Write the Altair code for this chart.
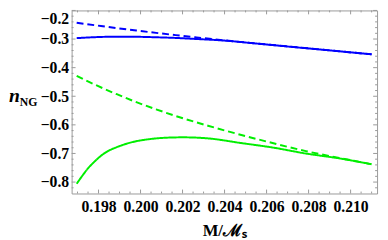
import altair as alt
import pandas as pd

# ---- data ----
blue_dash_M = [0.19696, 0.19794, 0.19887, 0.19980, 0.20074, 0.20167, 0.20260, 0.20400, 0.20540, 0.20727, 0.20913, 0.21100]
blue_dash_v = [-0.2433, -0.2528, -0.2617, -0.2702, -0.2784, -0.2863, -0.2938, -0.3047, -0.3146, -0.3275, -0.3405, -0.3534]

blue_solid_M = [0.19696, 0.19794, 0.19887, 0.19980, 0.20074, 0.20167, 0.20260, 0.20400, 0.20540, 0.20727, 0.20913, 0.21100]
blue_solid_v = [-0.2968, -0.2931, -0.2917, -0.2921, -0.2938, -0.2961, -0.2996, -0.3054, -0.3149, -0.3279, -0.3405, -0.3534]

green_dash_M = [0.19696, 0.19794, 0.19887, 0.19980, 0.20074, 0.20167, 0.20321, 0.20480, 0.20633, 0.20787, 0.20946, 0.21100]
green_dash_v = [-0.4284, -0.4632, -0.4929, -0.5205, -0.5457, -0.5689, -0.6030, -0.6354, -0.6644, -0.6917, -0.7155, -0.7377]

green_solid_M = [0.19696, 0.19724, 0.19747, 0.19780, 0.19808, 0.19841, 0.19887, 0.19967, 0.20041, 0.20120, 0.20204,
                 0.20321, 0.20480, 0.20633, 0.20787, 0.20946, 0.21100]
green_solid_v = [-0.8059, -0.7769, -0.7547, -0.7291, -0.7104, -0.6934, -0.6780, -0.6593, -0.6501, -0.6450, -0.6436,
                 -0.6473, -0.6637, -0.6797, -0.7002, -0.7172, -0.7377]

x_labels = [0.198, 0.200, 0.202, 0.204, 0.206, 0.208, 0.210]
y_labels = [-0.8, -0.7, -0.6, -0.5, -0.4, -0.3, -0.2]
x_major_ticks = [0.198, 0.200, 0.202, 0.204, 0.206, 0.208, 0.210]
x_minor_ticks = [0.197, 0.1975, 0.1985, 0.199, 0.1995, 0.2005, 0.201, 0.2015, 0.2025, 0.203, 0.2035,
                 0.2045, 0.205, 0.2055, 0.2065, 0.207, 0.2075, 0.2085, 0.209, 0.2095, 0.2105, 0.211]
y_major_ticks = [-0.8, -0.7, -0.6, -0.5, -0.4, -0.3, -0.2]
y_minor_ticks = [-0.82, -0.78, -0.76, -0.74, -0.72, -0.68, -0.66, -0.64, -0.62, -0.58, -0.56, -0.54,
                 -0.52, -0.48, -0.46, -0.44, -0.42, -0.38, -0.36, -0.34, -0.32, -0.28, -0.26, -0.24, -0.22]

series_names = ["blue_dashed", "blue_solid", "green_dashed", "green_solid"]
series_colors = ["#0000ff", "#0000ff", "#00ee00", "#00ee00"]
series_dash = [[7, 4], [1, 0], [7, 4], [1, 0]]

rows = []
for name, Ms, vs in [("blue_dashed", blue_dash_M, blue_dash_v),
                     ("blue_solid", blue_solid_M, blue_solid_v),
                     ("green_dashed", green_dash_M, green_dash_v),
                     ("green_solid", green_solid_M, green_solid_v)]:
    for m, v in zip(Ms, vs):
        rows.append({"M": m, "v": v, "series": name})
df = pd.DataFrame(rows)

W, H = 312, 187
FONT = "Liberation Serif"
FRAME = "#999999"

xscale = alt.Scale(domain=[0.19672, 0.21126], nice=False, zero=False)
yscale = alt.Scale(domain=[-0.84, -0.2], nice=False, zero=False)

xaxis = alt.Axis(values=x_labels, format=".3f", grid=False, domain=False, ticks=False,
                 labelFont=FONT, labelFontWeight="bold", labelFontSize=16, labelColor="black",
                 labelPadding=5, labelFlush=False, labelOverlap=False,
                 title="M/ℳₛ", titleFont=FONT, titleFontWeight="bold", titleFontSize=17,
                 titleColor="black", titlePadding=9)
yaxis = alt.Axis(values=y_labels, format=".1f", grid=False, domain=False, ticks=False,
                 labelFont=FONT, labelFontWeight="bold", labelFontSize=16, labelColor="black",
                 labelPadding=3, labelFlush=False, labelOverlap=False, title=None,
                 labelBaseline={"condition": {"test": "datum.value > -0.25", "value": "top"}, "value": "middle"})

X = alt.X("M:Q", scale=xscale, axis=xaxis)
Y = alt.Y("v:Q", scale=yscale, axis=yaxis)

lines = alt.Chart(df).mark_line(strokeWidth=2, interpolate="monotone").encode(
    x=X, y=Y,
    color=alt.Color("series:N", scale=alt.Scale(domain=series_names, range=series_colors), legend=None),
    strokeDash=alt.StrokeDash("series:N", scale=alt.Scale(domain=series_names, range=series_dash), legend=None),
    detail="series:N",
)

def xticks(vals, y0, y1):
    return alt.Chart(pd.DataFrame({"M": vals})).mark_rule(color=FRAME, strokeWidth=1).encode(
        x=X, y=alt.value(y0), y2=alt.value(y1))

def yticks(vals, x0, x1):
    return alt.Chart(pd.DataFrame({"v": vals})).mark_rule(color=FRAME, strokeWidth=1).encode(
        y=Y, x=alt.value(x0), x2=alt.value(x1))

tick_layers = [
    xticks(x_major_ticks, H, H - 4), xticks(x_minor_ticks, H, H - 2),
    xticks(x_major_ticks, 0, 4), xticks(x_minor_ticks, 0, 2),
    yticks(y_major_ticks, 0, 4), yticks(y_minor_ticks, 0, 2),
    yticks(y_major_ticks, W, W - 4), yticks(y_minor_ticks, W, W - 2),
]

one = pd.DataFrame({"a": [0]})
title_n = alt.Chart(one).mark_text(text="n", font=FONT, fontStyle="italic", fontWeight="bold",
                                   fontSize=20, align="left", baseline="alphabetic", color="black").encode(
    x=alt.value(-64), y=alt.value(94))
title_ng = alt.Chart(one).mark_text(text="NG", font=FONT, fontWeight="bold",
                                    fontSize=12, align="left", baseline="alphabetic", color="black").encode(
    x=alt.value(-53), y=alt.value(98))

chart = alt.layer(*tick_layers, lines, title_n, title_ng).properties(
    width=W, height=H,
    padding={"left": 65, "top": 0, "right": 3, "bottom": 45},
    autosize=alt.AutoSizeParams(type="none"),
).configure_view(stroke=FRAME, strokeWidth=1)

chart.save("out.html", embed_options={"renderer": "svg", "actions": False})
